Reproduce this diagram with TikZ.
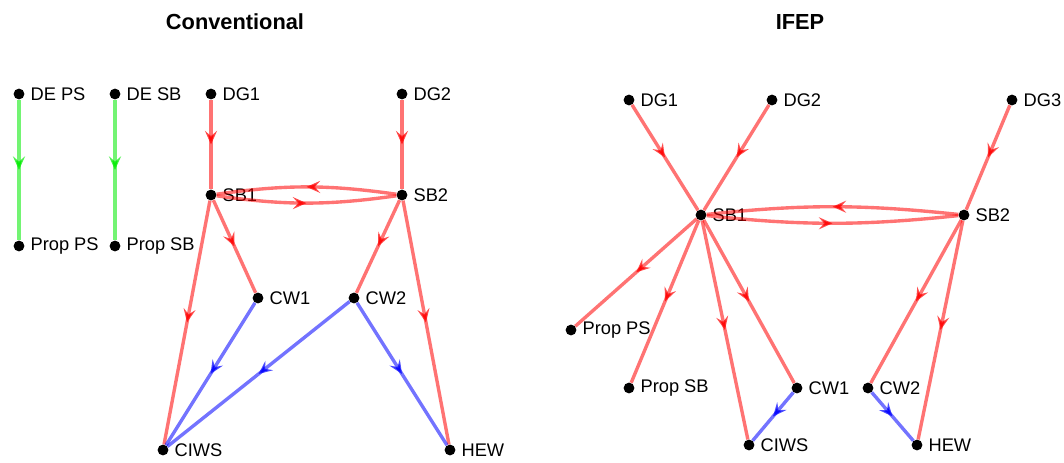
\documentclass[tikz,border=0pt]{standalone}
\usepackage{fontspec}
\setmainfont{Liberation Sans}
\usepackage{tikz}
\usetikzlibrary{arrows.meta,decorations.markings}

\definecolor{edgered}{RGB}{255,0,0}
\definecolor{edgegreen}{RGB}{0,235,0}
\definecolor{edgeblue}{RGB}{0,0,255}

\begin{document}
\begin{tikzpicture}[
    x=0.025cm, y=-0.025cm,
    bus/.style={circle, fill=black, inner sep=0pt, minimum size=0.27cm,
        label={[lbl]right:#1}},
    lbl/.style={inner sep=0pt, label distance=0.14cm, font=\fontsize{13}{15}\selectfont},
    title/.style={font=\bfseries\fontsize{15.5}{18}\selectfont},
    flow/.style={line width=2.4pt, draw opacity=0.55, postaction={decorate},
        decoration={markings, mark=at position 0.5 with {\arrow[opacity=0.7]{Stealth[length=3.4mm, width=3mm, inset=1.3mm]}}}},
    power/.style={flow, edgered},
    mech/.style={flow, edgegreen},
    cool/.style={flow, edgeblue}
]
\path[use as bounding box] (0,0) rectangle (1064,462);

% Titles
\node[title] (convtitle) at (235,22) {Conventional};
\node[title] (ifeptitle) at (800,22) {IFEP};

% Conventional: nodes
\node[bus=DE PS] (c_deps) at (19,94) {};
\node[bus=Prop PS] (c_propps) at (19,246) {};
\node[bus=DE SB] (c_desb) at (115,94) {};
\node[bus=Prop SB] (c_propsb) at (115,246) {};
\node[bus=DG1] (c_dg1) at (211,94) {};
\node[bus=DG2] (c_dg2) at (402,94) {};
\node[bus=SB1] (c_sb1) at (211,195) {};
\node[bus=SB2] (c_sb2) at (402,195) {};
\node[bus=CW1] (c_cw1) at (258,298) {};
\node[bus=CW2] (c_cw2) at (354,298) {};
\node[bus=CIWS] (c_ciws) at (163,450) {};
\node[bus=HEW] (c_hew) at (450,450) {};

% Conventional: edges
\draw[mech] (c_deps) -- (c_propps);
\draw[mech] (c_desb) -- (c_propsb);
\draw[power] (c_dg1) -- (c_sb1);
\draw[power] (c_dg2) -- (c_sb2);
\draw[power] (c_sb1) to[bend right=8] (c_sb2);
\draw[power] (c_sb2) to[bend right=8] (c_sb1);
\draw[power] (c_sb1) -- (c_cw1);
\draw[power] (c_sb1) -- (c_ciws);
\draw[power] (c_sb2) -- (c_cw2);
\draw[power] (c_sb2) -- (c_hew);
\draw[cool] (c_cw1) -- (c_ciws);
\draw[cool] (c_cw2) -- (c_ciws);
\draw[cool] (c_cw2) -- (c_hew);

% IFEP: nodes
\node[bus=DG1] (i_dg1) at (629,100) {};
\node[bus=DG2] (i_dg2) at (772,100) {};
\node[bus=DG3] (i_dg3) at (1012,100) {};
\node[bus=SB1] (i_sb1) at (701,215) {};
\node[bus=SB2] (i_sb2) at (964,215) {};
\node[bus=Prop PS] (i_propps) at (571,330) {};
\node[bus=Prop SB] (i_propsb) at (629,388) {};
\node[bus=CW1] (i_cw1) at (797,388) {};
\node[bus=CW2] (i_cw2) at (868,388) {};
\node[bus=CIWS] (i_ciws) at (749,445) {};
\node[bus=HEW] (i_hew) at (917,445) {};

% IFEP: edges
\draw[power] (i_dg1) -- (i_sb1);
\draw[power] (i_dg2) -- (i_sb1);
\draw[power] (i_dg3) -- (i_sb2);
\draw[power] (i_sb1) to[bend right=6] (i_sb2);
\draw[power] (i_sb2) to[bend right=6] (i_sb1);
\draw[power] (i_sb1) -- (i_propps);
\draw[power] (i_sb1) -- (i_propsb);
\draw[power] (i_sb1) -- (i_ciws);
\draw[power] (i_sb1) -- (i_cw1);
\draw[power] (i_sb2) -- (i_cw2);
\draw[power] (i_sb2) -- (i_hew);
\draw[cool] (i_cw1) -- (i_ciws);
\draw[cool] (i_cw2) -- (i_hew);

\end{tikzpicture}
\end{document}
